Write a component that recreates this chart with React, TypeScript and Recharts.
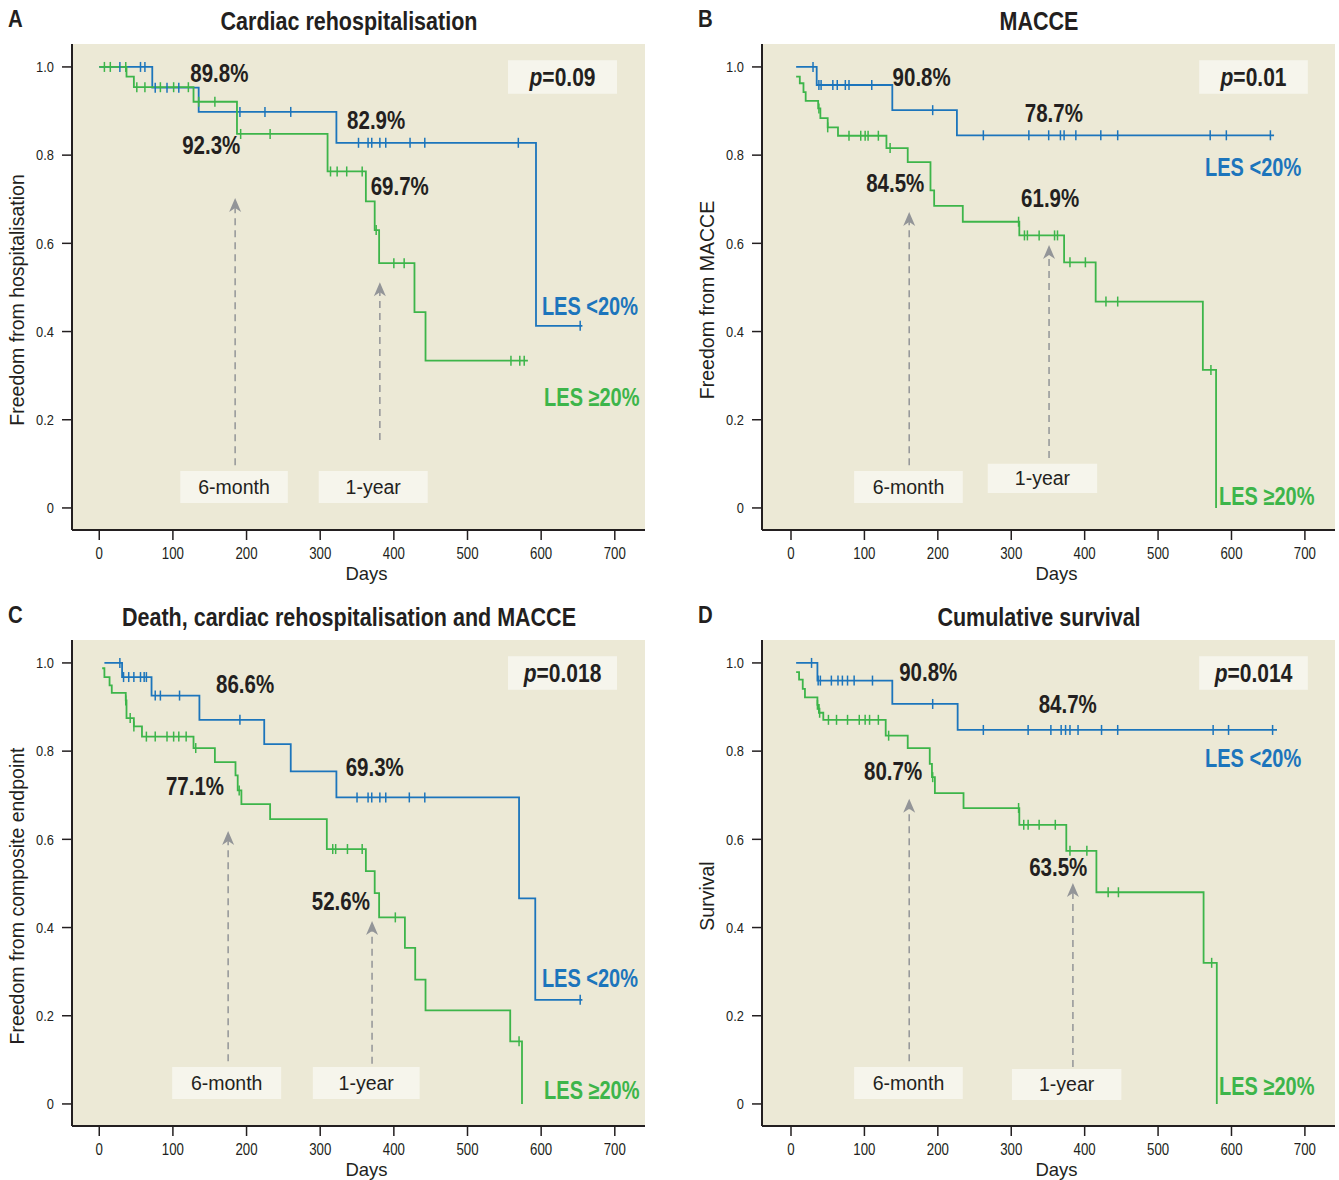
import React from 'react';
import {
  ComposedChart,
  Line,
  Scatter,
  XAxis,
  YAxis,
  CartesianGrid,
  ReferenceArea,
  ReferenceLine,
  ReferenceDot,
} from 'recharts';

const BLUE = '#1c75bc';
const GREEN = '#3db54a';
const INK = '#231f20';
const GREY = '#939598';
const PLOT_BG = '#ece9d6';
const BOX_BG = '#f6f5ec';
const SANS = '"Liberation Sans", Arial, sans-serif';

const xTicks = [0, 100, 200, 300, 400, 500, 600, 700];
const yTicks = [0, 0.2, 0.4, 0.6, 0.8, 1.0];

// [day, survival] step points
const aBlue = [[0, 1], [72, 0.953], [135, 0.898], [322, 0.828], [593, 0.413], [656, 0.413]];
const aBlueCens = [28, 56, 62, 76, 92, 108, 191, 225, 260, 352, 365, 370, 381, 389, 422, 442, 569, 653];
const aGreen = [[0, 1], [37, 0.978], [47, 0.954], [128, 0.921], [187, 0.848], [310, 0.763], [362, 0.695], [374, 0.63], [380, 0.555], [428, 0.444], [443, 0.334], [582, 0.334]];
const aGreenCens = [7, 15, 36, 51, 62, 83, 101, 121, 135, 157, 192, 232, 314, 323, 336, 357, 376, 400, 414, 559, 571, 577];

const bBlue = [[7, 1], [35, 0.959], [138, 0.902], [226, 0.845], [658, 0.845]];
const bBlueCens = [30, 38, 41, 57, 63, 74, 79, 110, 193, 262, 324, 351, 367, 372, 388, 422, 445, 571, 593, 653];
const bGreen = [[7, 0.978], [12, 0.963], [17, 0.943], [20, 0.923], [37, 0.906], [40, 0.884], [50, 0.863], [64, 0.844], [130, 0.816], [159, 0.784], [190, 0.72], [195, 0.685], [234, 0.649], [311, 0.618], [372, 0.557], [415, 0.468], [561, 0.313], [579, 0]];
const bGreenCens = [38, 50, 79, 95, 101, 105, 119, 135, 310, 318, 322, 338, 359, 363, 380, 401, 429, 445, 572];

const cBlue = [[7, 1], [31, 0.968], [71, 0.926], [136, 0.871], [224, 0.816], [260, 0.754], [322, 0.695], [570, 0.466], [592, 0.236], [656, 0.236]];
const cBlueCens = [28, 33, 40, 47, 56, 61, 64, 76, 83, 109, 191, 350, 365, 370, 381, 389, 421, 442, 653];
const cGreen = [[4, 0.988], [7, 0.968], [14, 0.949], [17, 0.932], [36, 0.915], [37, 0.875], [47, 0.856], [58, 0.833], [128, 0.807], [157, 0.775], [185, 0.745], [188, 0.711], [193, 0.68], [232, 0.646], [309, 0.578], [362, 0.528], [374, 0.478], [380, 0.423], [415, 0.354], [429, 0.282], [443, 0.212], [558, 0.142], [574, 0]];
const cGreenCens = [36, 42, 47, 64, 76, 92, 101, 108, 118, 131, 190, 317, 321, 337, 357, 402, 570];

const dBlue = [[7, 1], [36, 0.96], [138, 0.907], [227, 0.848], [662, 0.848]];
const dBlueCens = [28, 37, 40, 55, 64, 70, 77, 86, 111, 193, 262, 323, 354, 368, 374, 380, 391, 423, 445, 575, 596, 656];
const dGreen = [[7, 0.979], [11, 0.962], [16, 0.941], [19, 0.922], [36, 0.905], [38, 0.887], [44, 0.871], [129, 0.835], [159, 0.807], [189, 0.771], [192, 0.741], [196, 0.705], [235, 0.671], [311, 0.633], [375, 0.574], [416, 0.48], [562, 0.32], [580, 0]];
const dGreenCens = [36, 39, 51, 62, 77, 93, 101, 107, 119, 133, 193, 310, 317, 323, 338, 360, 380, 403, 432, 446, 573];

// percentage call-outs: [text, day, value]
const aPcts = [['89.8%', 163, 0.986], ['92.3%', 152, 0.823], ['82.9%', 376, 0.878], ['69.7%', 408, 0.73]];
const bPcts = [['90.8%', 178, 0.977], ['78.7%', 358, 0.896], ['84.5%', 142, 0.737], ['61.9%', 353, 0.703]];
const cPcts = [['86.6%', 198, 0.952], ['77.1%', 130, 0.721], ['69.3%', 374, 0.764], ['52.6%', 328, 0.46]];
const dPcts = [['90.8%', 187, 0.979], ['84.7%', 377, 0.906], ['80.7%', 139, 0.755], ['63.5%', 364, 0.537]];

const pValues = ['0.09', '0.01', '0.018', '0.014'];
const titles = ['Cardiac rehospitalisation', 'MACCE', 'Death, cardiac rehospitalisation and MACCE', 'Cumulative survival'];
const yLabels = ['Freedom from hospitalisation', 'Freedom from MACCE', 'Freedom from composite endpoint', 'Survival'];

function stepValue(steps: number[][], day: number) {
  let v = steps[0][1];
  for (const [d, s] of steps) if (d <= day) v = s;
  return v;
}

const toPts = (steps: number[][]) => steps.map(([x, y]) => ({ x, y }));
const toCens = (steps: number[][], days: number[]) => days.map((x) => ({ x, y: stepValue(steps, x) }));

const censorShape = (color: string) => (p: any) => (
  <line x1={p.cx} x2={p.cx} y1={p.cy - 5} y2={p.cy + 5} stroke={color} strokeWidth={1.5} />
);

const arrowHead = (p: any) => (
  <polygon
    points={`${p.cx},${p.cy} ${p.cx - 6},${p.cy + 14} ${p.cx},${p.cy + 10} ${p.cx + 6},${p.cy + 14}`}
    fill={GREY}
  />
);

// condensed look: Liberation Sans squeezed horizontally
function Squeezed({ x, y, sx, anchor, size, bold, color, children }: any) {
  return (
    <g transform={`translate(${x},${y}) scale(${sx},1)`}>
      <text
        x={0}
        y={0}
        fill={color}
        textAnchor={anchor}
        dominantBaseline="central"
        fontFamily={SANS}
        fontWeight={bold ? 'bold' : 'normal'}
        fontSize={size}
      >
        {children}
      </text>
    </g>
  );
}

const XTick = (p: any) => (
  <g transform={`translate(${p.x},${p.y}) scale(0.78,1)`}>
    <text x={0} y={0} dy="0.71em" textAnchor="middle" fill={INK} fontFamily={SANS} fontSize={17}>
      {p.payload.value}
    </text>
  </g>
);

const YTick = (p: any) => (
  <g transform={`translate(${p.x},${p.y}) scale(0.86,1)`}>
    <text x={0} y={0} textAnchor="end" dominantBaseline="central" fill={INK} fontFamily={SANS} fontSize={15}>
      {p.payload.value === 0 ? '0' : p.payload.value.toFixed(1)}
    </text>
  </g>
);

type Marker = { label: string; x1: number; x2: number; y1: number; y2: number; ax: number; ay0: number; ay1: number };

const panels = [
  {
    letter: 'A', left: 0, top: 0, xDomain: [-37, 741],
    blue: aBlue, blueCens: aBlueCens, green: aGreen, greenCens: aGreenCens, pcts: aPcts,
    lesLt: [601, 0.456], lesGe: [604, 0.249], pBox: [555, 703],
    markers: [
      { label: '6-month', x1: 110, x2: 256, y1: 0.011, y2: 0.084, ax: 184.5, ay0: 0.097, ay1: 0.703 },
      { label: '1-year', x1: 298, x2: 446, y1: 0.011, y2: 0.084, ax: 381, ay0: 0.154, ay1: 0.512 },
    ] as Marker[],
  },
  {
    letter: 'B', left: 690, top: 0, xDomain: [-39.5, 741],
    blue: bBlue, blueCens: bBlueCens, green: bGreen, greenCens: bGreenCens, pcts: bPcts,
    lesLt: [564, 0.771], lesGe: [583, 0.025], pBox: [556, 704],
    markers: [
      { label: '6-month', x1: 86, x2: 234, y1: 0.011, y2: 0.084, ax: 161, ay0: 0.097, ay1: 0.671 },
      { label: '1-year', x1: 268, x2: 417, y1: 0.034, y2: 0.1, ax: 351.5, ay0: 0.113, ay1: 0.596 },
    ] as Marker[],
  },
  {
    letter: 'C', left: 0, top: 596, xDomain: [-37, 741],
    blue: cBlue, blueCens: cBlueCens, green: cGreen, greenCens: cGreenCens, pcts: cPcts,
    lesLt: [601, 0.283], lesGe: [604, 0.029], pBox: [555, 703],
    markers: [
      { label: '6-month', x1: 99, x2: 247, y1: 0.011, y2: 0.084, ax: 175, ay0: 0.097, ay1: 0.619 },
      { label: '1-year', x1: 290, x2: 435, y1: 0.011, y2: 0.084, ax: 370.4, ay0: 0.091, ay1: 0.415 },
    ] as Marker[],
  },
  {
    letter: 'D', left: 690, top: 596, xDomain: [-39.5, 741],
    blue: dBlue, blueCens: dBlueCens, green: dGreen, greenCens: dGreenCens, pcts: dPcts,
    lesLt: [564, 0.782], lesGe: [583, 0.039], pBox: [556, 704],
    markers: [
      { label: '6-month', x1: 86, x2: 234, y1: 0.011, y2: 0.084, ax: 161, ay0: 0.097, ay1: 0.692 },
      { label: '1-year', x1: 301, x2: 450, y1: 0.009, y2: 0.079, ax: 384, ay0: 0.084, ay1: 0.501 },
    ] as Marker[],
  },
];

const textShape = (text: string, color: string, anchor: 'middle' | 'start', sx: number) => (p: any) => (
  <Squeezed x={p.cx} y={p.cy} sx={sx} anchor={anchor} size={25} bold color={color}>
    {text}
  </Squeezed>
);

function Panel({ idx }: { idx: number }) {
  const p = panels[idx];
  const pVal = pValues[idx];
  return (
    <div style={{ position: 'absolute', left: p.left, top: p.top, width: 670, height: 590 }}>
      <div
        style={{
          position: 'absolute', left: 8, top: 6, fontFamily: SANS, fontWeight: 'bold',
          fontSize: 24, lineHeight: '26px', color: INK, transform: 'scaleX(0.85)', transformOrigin: 'left',
        }}
      >
        {p.letter}
      </div>
      <div
        style={{
          position: 'absolute', left: 349, top: 8, transform: 'translateX(-50%) scaleX(0.86)', whiteSpace: 'nowrap',
          fontFamily: SANS, fontWeight: 'bold', fontSize: 25, lineHeight: '26px', color: INK,
        }}
      >
        {titles[idx]}
      </div>
      <ComposedChart width={670} height={590} margin={{ top: 44, right: 25, bottom: 20, left: 0 }}>
        <CartesianGrid fill={PLOT_BG} horizontal={false} vertical={false} />
        <XAxis
          type="number"
          dataKey="x"
          domain={p.xDomain}
          allowDataOverflow
          ticks={xTicks}
          height={40}
          tickSize={10}
          tickMargin={7}
          axisLine={{ stroke: INK, strokeWidth: 2 }}
          tickLine={{ stroke: INK, strokeWidth: 1.5 }}
          tick={XTick}
          label={(lp: any) => (
            <text
              x={lp.viewBox.x + lp.viewBox.width / 2 + 8}
              y={lp.viewBox.y + 43}
              textAnchor="middle"
              dominantBaseline="central"
              fill={INK}
              fontFamily={SANS}
              fontSize={18.5}
            >
              Days
            </text>
          )}
        />
        <YAxis
          type="number"
          dataKey="y"
          domain={[-0.05, 1.052]}
          allowDataOverflow
          ticks={yTicks}
          width={72}
          tickSize={10}
          tickMargin={8}
          axisLine={{ stroke: INK, strokeWidth: 2 }}
          tickLine={{ stroke: INK, strokeWidth: 1.5 }}
          tick={YTick}
          label={(lp: any) => {
            const cx = 17;
            const cy = lp.viewBox.y + lp.viewBox.height / 2 + 13;
            return (
              <text
                x={cx}
                y={cy}
                transform={`rotate(-90 ${cx} ${cy})`}
                textAnchor="middle"
                dominantBaseline="central"
                fill={INK}
                fontFamily={SANS}
                fontSize={19.5}
              >
                {yLabels[idx]}
              </text>
            );
          }}
        />
        {p.markers.map((m) => (
          <ReferenceArea
            key={m.label}
            x1={m.x1}
            x2={m.x2}
            y1={m.y1}
            y2={m.y2}
            fill={BOX_BG}
            fillOpacity={1}
            stroke="none"
            label={{ value: m.label, position: 'center', fill: INK, fontFamily: SANS, fontSize: 19.5 }}
          />
        ))}
        {p.markers.map((m) => (
          <ReferenceLine
            key={m.label + 'l'}
            segment={[{ x: m.ax, y: m.ay0 }, { x: m.ax, y: m.ay1 - 0.02 }]}
            stroke={GREY}
            strokeWidth={1.5}
            strokeDasharray="7 5"
          />
        ))}
        {p.markers.map((m) => (
          <ReferenceDot key={m.label + 'a'} x={m.ax} y={m.ay1} r={0} shape={arrowHead} />
        ))}
        <ReferenceArea
          x1={p.pBox[0]}
          x2={p.pBox[1]}
          y1={0.939}
          y2={1.015}
          fill={BOX_BG}
          fillOpacity={1}
          stroke="none"
          label={(lp: any) => (
            <Squeezed
              x={lp.viewBox.x + lp.viewBox.width / 2}
              y={lp.viewBox.y + lp.viewBox.height / 2}
              sx={0.84}
              anchor="middle"
              size={25}
              bold
              color={INK}
            >
              <tspan fontStyle="italic">p</tspan>={pVal}
            </Squeezed>
          )}
        />
        <Line
          data={toPts(p.blue)}
          dataKey="y"
          type="stepAfter"
          stroke={BLUE}
          strokeWidth={1.8}
          dot={false}
          activeDot={false}
          isAnimationActive={false}
        />
        <Scatter
          data={toCens(p.blue, p.blueCens)}
          dataKey="y"
          shape={censorShape(BLUE)}
          isAnimationActive={false}
        />
        <Line
          data={toPts(p.green)}
          dataKey="y"
          type="stepAfter"
          stroke={GREEN}
          strokeWidth={1.8}
          dot={false}
          activeDot={false}
          isAnimationActive={false}
        />
        <Scatter
          data={toCens(p.green, p.greenCens)}
          dataKey="y"
          shape={censorShape(GREEN)}
          isAnimationActive={false}
        />
        {p.pcts.map(([t, x, y]) => (
          <ReferenceDot
            key={(t as string) + x}
            x={x as number}
            y={y as number}
            r={0}
            shape={textShape(t as string, INK, 'middle', 0.82)}
          />
        ))}
        <ReferenceDot x={p.lesLt[0]} y={p.lesLt[1]} r={0} shape={textShape('LES <20%', BLUE, 'start', 0.8)} />
        <ReferenceDot x={p.lesGe[0]} y={p.lesGe[1]} r={0} shape={textShape('LES \u226520%', GREEN, 'start', 0.8)} />
      </ComposedChart>
    </div>
  );
}

export default function App() {
  return (
    <div style={{ position: 'absolute', left: 0, top: 0, width: 1339, height: 1180, background: '#fff' }}>
      {[0, 1, 2, 3].map((i) => (
        <Panel key={i} idx={i} />
      ))}
    </div>
  );
}
